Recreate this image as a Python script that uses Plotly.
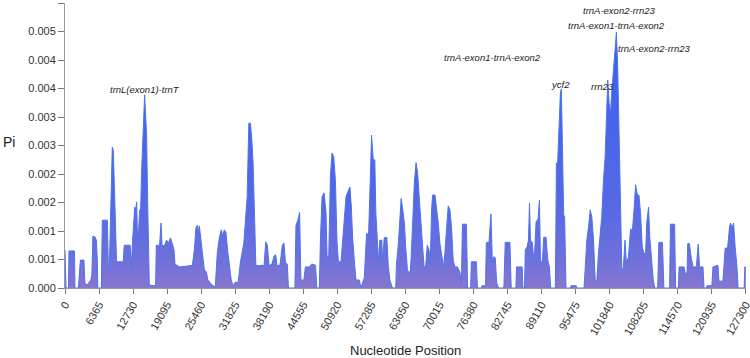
import plotly.graph_objects as go

# Sliding-window nucleotide diversity (Pi)
position = [0, 190, 650, 740, 1770, 1860, 2510, 2700, 2880, 3540, 3720, 4090, 4470, 4840, 5020, 5210, 5580, 5860, 6050, 6140,
            6790, 6980, 7910, 8100, 8280, 8470, 8650, 8840, 9030, 9120, 9310, 9490, 9640, 10890, 11070, 12190, 12380, 12650, 13030, 13210,
            13400, 13550, 13770, 13960, 14140, 14330, 14700, 14890, 15070, 15260, 15450, 15630, 15760, 16940, 17070, 17680, 17960, 18140, 18610, 18980,
            19350, 19730, 20100, 20380, 20560, 21400, 23260, 23820, 24190, 24470, 24750, 24940, 25120, 25400, 25680, 26050, 26430, 26710, 27540, 28100,
            28470, 28850, 29220, 29500, 29780, 30090, 30390, 30710, 31080, 31450, 31820, 32380, 32810, 33440, 33740, 34060, 34370, 34670, 34930, 35170,
            35420, 35680, 36290, 36850, 37220, 37540, 37840, 38150, 38710, 39080, 39400, 39640, 40200, 40630, 40940, 41220, 41560, 41780, 42990, 43180,
            43550, 43860, 44110, 44660, 44940, 45600, 46150, 46840, 47080, 47550, 47770, 48070, 48440, 48810, 49000, 49320, 49630, 49930, 50250, 50560,
            50860, 51120, 51610, 51920, 52240, 52540, 52850, 53280, 53540, 53780, 54160, 54400, 55030, 55330, 55640, 55960, 56390, 56760, 57080, 57320,
            57640, 57930, 58120, 58440, 58620, 58870, 59240, 59370, 59680, 60170, 60430, 60730, 61230, 61840, 61970, 62340, 62590, 62850, 63090, 63460,
            63700, 64020, 64200, 64520, 64700, 65080, 65320, 65640, 65940, 66200, 66490, 66810, 67130, 67420, 67740, 68060, 68300, 68540, 68730, 69180,
            69470, 69790, 70100, 70400, 70770, 71040, 71330, 71650, 71970, 72260, 72580, 72890, 73380, 73820, 74120, 74310, 75050, 75280, 75840, 75990,
            76920, 77110, 77880, 77970, 78630, 78780, 79280, 79650, 79890, 80210, 80450, 80710, 81080, 81980, 82070, 82310, 83190, 83430, 84300, 84430,
            85480, 85610, 85920, 86070, 86400, 86660, 86850, 87030, 87370, 87710, 88080, 88450, 88710, 88900, 89230, 89510, 89940, 90260, 90570, 90820,
            91690, 91880, 92120, 92360, 92620, 92810, 93050, 93240, 93420, 93670, 94540, 94600, 95600, 95660, 97050, 97270, 97570, 97890, 98200, 98500,
            98820, 99130, 99430, 99750, 100060, 100360, 100680, 100990, 101290, 101480, 101740, 101980, 102220, 102540, 102850, 103100, 103340, 103600, 103900, 104120,
            104400, 104710, 104950, 105330, 105760, 106080, 106390, 106690, 107010, 107320, 107620, 107930, 108180, 108550, 108770, 109110, 109330, 109670, 109990, 110260,
            110820, 111040, 111710, 111970, 113050, 113200, 113980, 114170, 114690, 114820, 115750, 115940, 116310, 116440, 116740, 117110, 117430, 118040, 118400, 118640,
            119290, 119480, 119950, 120030, 120960, 121150, 122080, 122270, 123010, 123440, 123890, 124260, 124450, 124730, 125010, 125300, 125620, 125860, 126980, 127110,
            127300]

pi = [0.00067, 0, 0, 0.00065, 0.00065, 0, 0, 0.00039, 0.00049, 0.00049, 0.00009, 0.00005, 0.0001, 0.00014, 0.00023, 0.00091, 0.0009, 0.00084, 0.00046, 0,
      0, 0.00119, 0.00119, 0.00039, 0.00032, 0.00102, 0.00198, 0.00247, 0.00242, 0.00211, 0.00172, 0.00102, 0.00046, 0.00046, 0.00075, 0.00075, 0.00035, 0.00084, 0.00142, 0.00137,
      0.00151, 0.0009, 0.00102, 0.00137, 0.00137, 0.00207, 0.00282, 0.00339, 0.00304, 0.00268, 0.00154, 0.00067, 0.00005, 0.00004, 0.00075, 0.00075, 0.00114, 0.00075, 0.00074, 0.00084,
      0.00079, 0.00088, 0.00075, 0.00067, 0.00042, 0.00037, 0.00039, 0.0004, 0.00067, 0.00105, 0.0011, 0.00098, 0.00109, 0.00088, 0.00067, 0.00032, 0.00028, 0.00014, 0.00005, 0.00002,
      0.00061, 0.00088, 0.00102, 0.00091, 0.00102, 0.00098, 0.00067, 0.0004, 0.00014, 0.00004, 0.0001, 0.0001, 0.00046, 0.00079, 0.00116, 0.0016, 0.00289, 0.00289, 0.0026, 0.00219,
      0.00132, 0.0004, 0.00039, 0.0004, 0.00039, 0.00081, 0.00075, 0.00039, 0.00042, 0.00056, 0.00058, 0.00039, 0.0004, 0.00075, 0.00079, 0.00044, 0.00042, 0, 0, 0.0011,
      0.00119, 0.00133, 0.00014, 0.00014, 0.00037, 0.00037, 0.00042, 0.0004, 0, 0, 0.00089, 0.0016, 0.00167, 0.00132, 0.00053, 0.00058, 0.00198, 0.00237, 0.0023, 0.00189,
      0.00081, 0.00046, 0.00046, 0.00081, 0.00125, 0.0016, 0.00168, 0.00177, 0.00142, 0.00088, 0.0004, 0.00014, 0.00014, 0, 0.00009, 0.00018, 0.00096, 0.00093, 0.00189, 0.00268,
      0.00225, 0.00225, 0.00132, 0.00084, 0.00046, 0.00084, 0.00084, 0.00046, 0.00088, 0.00089, 0.0004, 0.00014, 0, 0, 0.0004, 0.00079, 0.00125, 0.00157, 0.00142, 0.00114,
      0.00072, 0.00032, 0.00028, 0.00028, 0.00049, 0.00142, 0.00184, 0.0022, 0.00201, 0.00163, 0.00128, 0.00087, 0.00037, 0.00037, 0.00075, 0.00067, 0.00043, 0.00137, 0.00163, 0.00163,
      0.00143, 0.00114, 0.00078, 0.00055, 0.00037, 0.00063, 0.00105, 0.00144, 0.00137, 0.00108, 0.00049, 0.00037, 0.00037, 0.00028, 0.00009, 0.00112, 0.00112, 0, 0, 0.00046,
      0.00046, 0, 0, 0.00004, 0.00004, 0.0008, 0.0008, 0.0013, 0.00049, 0.00055, 0.00053, 0.00009, 0, 0, 0.00004, 0.0008, 0.0008, 0, 0, 0.00037,
      0.00037, 0, 0, 0.00067, 0.00072, 0.00084, 0.00149, 0.00084, 0.0008, 0.00043, 0.00116, 0.00121, 0.00154, 0.00049, 0.00042, 0.00089, 0.00089, 0.00049, 0.00037, 0,
      0, 0.00219, 0.00221, 0.003, 0.00342, 0.00349, 0.00225, 0.00128, 0.00125, 0, 0, 0.00004, 0.00004, 0, 0, 0.00037, 0.00084, 0.00107, 0.00137, 0.00125,
      0.00084, 0.00014, 0.0001, 0.00061, 0.00095, 0.00125, 0.00189, 0.0023, 0.00312, 0.00365, 0.00324, 0.00307, 0.00342, 0.00382, 0.00412, 0.00449, 0.00388, 0.0026, 0.00096, 0.00032,
      0.00035, 0.00084, 0.00046, 0.00053, 0.00104, 0.001, 0.00137, 0.00181, 0.00163, 0.00163, 0.00131, 0.00072, 0.00063, 0.00058, 0.00114, 0.00142, 0.0009, 0.00043, 0.00014, 0,
      0, 0.0008, 0.0008, 0, 0, 0.00112, 0.00112, 0, 0, 0.00037, 0.00037, 0.00026, 0.00026, 0.00078, 0.00078, 0.00052, 0.00037, 0.00037, 0.00077, 0.00037,
      0.00037, 0, 0, 0.00004, 0.00004, 0.00037, 0.0004, 0.00012, 0.00012, 0.0007, 0.0007, 0.00108, 0.00114, 0.00105, 0.00114, 0.00072, 0.0004, 0, 0, 0.00037,
      0.00037]

x_ticks = [0, 6365, 12730, 19095, 25460, 31825, 38190, 44555, 50920, 57285, 63650, 70015, 76380,
           82745, 89110, 95475, 101840, 108205, 114570, 120935, 127300]
y_ticks = [0, 0.0005, 0.001, 0.0015, 0.002, 0.0025, 0.003, 0.0035, 0.004, 0.0045, 0.005]
y_tick_text = ["0.000", "0.001", "0.001", "0.002", "0.002", "0.003", "0.003", "0.004", "0.004", "0.005", "0.005"]

label_text = ["trnL(exon1)-trnT", "trnA-exon1-trnA-exon2", "ycf2", "rrn23",
              "trnA-exon2-rrn23", "trnA-exon1-trnA-exon2", "trnA-exon2-rrn23"]
label_pos = [14890, 80020, 92730, 100590, 103750, 103100, 110170]
label_pi = [0.00349, 0.00404, 0.00357, 0.00354, 0.00486, 0.0046, 0.0042]

FONT = "Liberation Sans, Arial, sans-serif"

fig = go.Figure()
fig.add_trace(go.Scatter(
    x=position, y=pi, mode="lines", fill="tozeroy",
    line=dict(color="#4d74ea", width=1),
    fillgradient=dict(type="vertical", start=0, stop=0.0045,
                      colorscale=[[0, "#8676cf"], [0.12, "#6d70dc"], [0.35, "#5468e6"], [1, "#3a60f0"]]),
    hoverinfo="x+y", showlegend=False,
))

for t, xp, yp in zip(label_text, label_pos, label_pi):
    fig.add_annotation(x=xp, y=yp, text=t, showarrow=False, xanchor="center", yanchor="middle",
                       font=dict(family=FONT, size=9.5, color="#222", style="italic"))

fig.add_annotation(xref="paper", yref="paper", x=-0.094, y=0.512, text="Pi", showarrow=False,
                   xanchor="left", yanchor="middle", font=dict(family=FONT, size=14, color="#222"))
fig.add_annotation(xref="paper", yref="paper", x=0.5, y=-0.218, text="Nucleotide Position", showarrow=False,
                   xanchor="center", yanchor="middle", font=dict(family=FONT, size=13, color="#222"))

fig.update_layout(
    width=750, height=358,
    margin=dict(l=65, r=4, t=3, b=70, autoexpand=False),
    paper_bgcolor="white", plot_bgcolor="white",
    font=dict(family=FONT, size=11, color="#333"),
)
fig.update_xaxes(range=[0, 127330], tickvals=x_ticks, ticktext=[str(v) for v in x_ticks],
                 tickangle=-60, showgrid=False, zeroline=False, showline=True, linecolor="#999",
                 ticks="outside", ticklen=5, tickcolor="#777", tickfont=dict(size=11, color="#333"),
                 ticklabeloverflow="allow", automargin=False)
fig.update_yaxes(range=[0, 0.005], tickvals=y_ticks, ticktext=y_tick_text,
                 showgrid=False, zeroline=False, showline=True, linecolor="#999",
                 ticks="outside", ticklen=6, tickcolor="#777", tickfont=dict(size=11, color="#333"),
                 automargin=False)

fig.write_html("out.html")
